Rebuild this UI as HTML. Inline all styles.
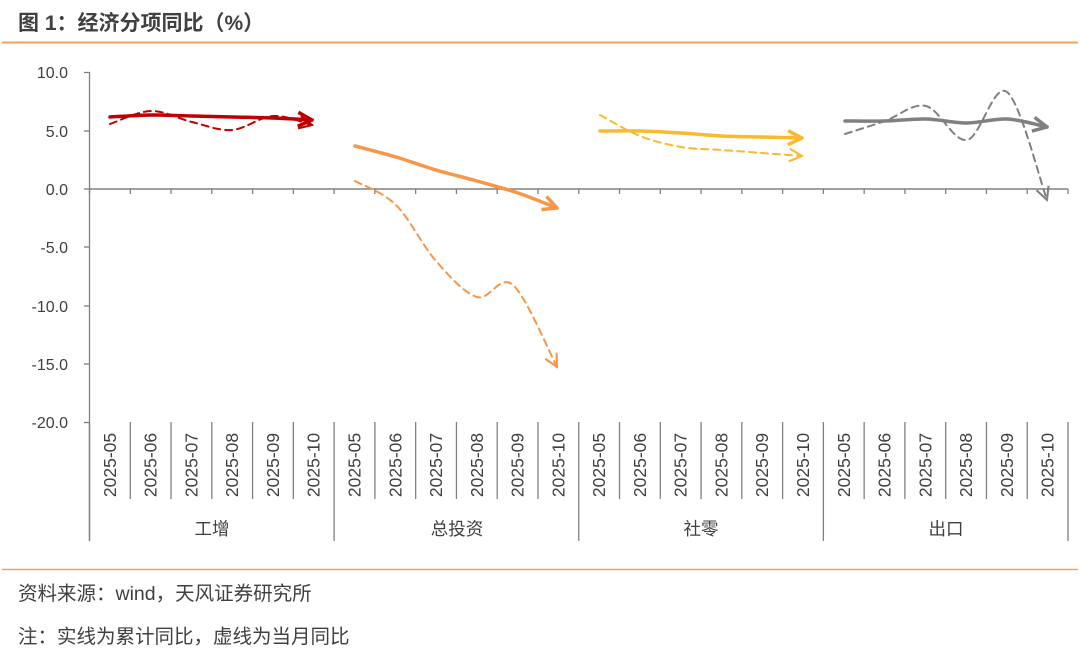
<!DOCTYPE html>
<html><head><meta charset="utf-8"><style>
body{margin:0;background:#fff;width:1080px;height:649px;overflow:hidden;font-family:"Liberation Sans","Noto Sans CJK SC",sans-serif;}
</style></head><body>
<svg width="1080" height="649" xmlns="http://www.w3.org/2000/svg" font-family="Liberation Sans, Noto Sans CJK SC, sans-serif">
<defs>
<marker id="mr" viewBox="0 0 10 10" refX="9" refY="5" markerWidth="5" markerHeight="5" orient="auto" markerUnits="strokeWidth"><path d="M1,1 L9,5 L1,9" fill="none" stroke="#c00000" stroke-width="2"/></marker>
<marker id="mo" viewBox="0 0 10 10" refX="9" refY="5" markerWidth="5" markerHeight="5" orient="auto" markerUnits="strokeWidth"><path d="M1,1 L9,5 L1,9" fill="none" stroke="#f79646" stroke-width="2"/></marker>
<marker id="my" viewBox="0 0 10 10" refX="9" refY="5" markerWidth="5" markerHeight="5" orient="auto" markerUnits="strokeWidth"><path d="M1,1 L9,5 L1,9" fill="none" stroke="#fbb92f" stroke-width="2"/></marker>
<marker id="mg" viewBox="0 0 10 10" refX="9" refY="5" markerWidth="5" markerHeight="5" orient="auto" markerUnits="strokeWidth"><path d="M1,1 L9,5 L1,9" fill="none" stroke="#808080" stroke-width="2"/></marker>
<marker id="dr" viewBox="0 0 10 10" refX="9" refY="5" markerWidth="8" markerHeight="8" orient="auto" markerUnits="strokeWidth"><path d="M1,1 L9,5 L1,9" fill="none" stroke="#c00000" stroke-width="1.3"/></marker>
<marker id="do" viewBox="0 0 10 10" refX="9" refY="5" markerWidth="8" markerHeight="8" orient="auto" markerUnits="strokeWidth"><path d="M1,1 L9,5 L1,9" fill="none" stroke="#f79646" stroke-width="1.3"/></marker>
<marker id="dy" viewBox="0 0 10 10" refX="9" refY="5" markerWidth="8" markerHeight="8" orient="auto" markerUnits="strokeWidth"><path d="M1,1 L9,5 L1,9" fill="none" stroke="#fbb92f" stroke-width="1.3"/></marker>
<marker id="dg" viewBox="0 0 10 10" refX="9" refY="5" markerWidth="8" markerHeight="8" orient="auto" markerUnits="strokeWidth"><path d="M1,1 L9,5 L1,9" fill="none" stroke="#808080" stroke-width="1.3"/></marker>
</defs>
<text x="18" y="30" font-size="21" font-weight="bold" fill="#404040">图 1：经济分项同比（%）</text>
<line x1="2" y1="42.5" x2="1078" y2="42.5" stroke="#f4a060" stroke-width="2"/>
<line x1="2" y1="569.5" x2="1078" y2="569.5" stroke="#f4a060" stroke-width="1.5"/>
<text x="18" y="600" font-size="19.5" fill="#404040">资料来源：wind，天风证券研究所</text>
<text x="18" y="643" font-size="19.5" fill="#404040">注：实线为累计同比，虚线为当月同比</text>
<g font-size="16" fill="#404040" text-anchor="end">
<text x="68" y="78">10.0</text><text x="68" y="137">5.0</text><text x="68" y="195">0.0</text>
<text x="68" y="253">-5.0</text><text x="68" y="312">-10.0</text><text x="68" y="370">-15.0</text><text x="68" y="428">-20.0</text>
</g>
<g stroke="#808080" stroke-width="1.3">
<line x1="89.5" y1="72" x2="89.5" y2="541"/>
<line x1="84" y1="72.5" x2="89.5" y2="72.5"/><line x1="84" y1="131" x2="89.5" y2="131"/><line x1="84" y1="189" x2="89.5" y2="189"/><line x1="84" y1="247" x2="89.5" y2="247"/><line x1="84" y1="306" x2="89.5" y2="306"/><line x1="84" y1="364" x2="89.5" y2="364"/><line x1="84" y1="422.5" x2="89.5" y2="422.5"/>
<line x1="89.5" y1="189" x2="1068" y2="189" stroke-width="1.5"/>
</g>
<g id="ticks" stroke="#808080" stroke-width="1.3"></g>
<g id="labels" font-size="17.5" fill="#404040"></g>
<g font-size="17.5" fill="#404040" text-anchor="middle">
<text x="212" y="535">工增</text><text x="457" y="535">总投资</text><text x="701" y="535">社零</text><text x="946" y="535">出口</text>
</g>
<g fill="none" stroke-linecap="round">
<path id="p1" stroke="#c00000" stroke-width="3.5" marker-end="url(#mr)"/>
<path id="p2" stroke="#c00000" stroke-width="2" stroke-dasharray="7,5" marker-end="url(#dr)"/>
<path id="p3" stroke="#f79646" stroke-width="3.5" marker-end="url(#mo)"/>
<path id="p4" stroke="#f79646" stroke-width="2" stroke-dasharray="7,5" marker-end="url(#do)"/>
<path id="p5" stroke="#fbb92f" stroke-width="3.5" marker-end="url(#my)"/>
<path id="p6" stroke="#fbb92f" stroke-width="2" stroke-dasharray="7,5" marker-end="url(#dy)"/>
<path id="p7" stroke="#808080" stroke-width="3.5" marker-end="url(#mg)"/>
<path id="p8" stroke="#808080" stroke-width="2" stroke-dasharray="7,5" marker-end="url(#dg)"/>
</g>
</svg>
<script>
var ns="http://www.w3.org/2000/svg",w=(1068-89.5)/24;
var tg=document.getElementById("ticks"),lg=document.getElementById("labels");
var ms=["2025-05","2025-06","2025-07","2025-08","2025-09","2025-10"];
for(var i=0;i<=24;i++){var x=89.5+i*w;
 var l=document.createElementNS(ns,"line");l.setAttribute("x1",x);l.setAttribute("x2",x);l.setAttribute("y1",422);l.setAttribute("y2",i%6==0?541:499);tg.appendChild(l);
 var t=document.createElementNS(ns,"line");t.setAttribute("x1",x);t.setAttribute("x2",x);t.setAttribute("y1",189);t.setAttribute("y2",194);tg.appendChild(t);
 if(i<24){var c=x+w/2+6;var tx=document.createElementNS(ns,"text");tx.setAttribute("transform","translate("+c+",465) rotate(-90)");tx.setAttribute("text-anchor","middle");tx.textContent=ms[i%6];lg.appendChild(tx);}}
function cr(p){var d="M"+p[0][0]+","+p[0][1];for(var i=0;i<p.length-1;i++){var p0=p[i-1]||p[i],p1=p[i],p2=p[i+1],p3=p[i+2]||p2;
d+=" C"+(p1[0]+(p2[0]-p0[0])/6)+","+(p1[1]+(p2[1]-p0[1])/6)+" "+(p2[0]-(p3[0]-p1[0])/6)+","+(p2[1]-(p3[1]-p1[1])/6)+" "+p2[0]+","+p2[1];}return d;}
var D={p1:[[110,117],[151,115],[192,116],[232,117],[273,118],[312,120]],
p2:[[110,124],[151,111],[192,122],[232,130],[273,116],[312,125]],
p3:[[355,146],[396,157],[436,170],[477,181],[518,193],[557,208]],
p4:[[355,181],[396,205],[436,261],[477,297],[513,285],[557,367]],
p5:[[600,131],[640,131],[681,133],[722,136],[762,137],[802,138]],
p6:[[600,115],[640,136],[681,147],[722,150],[762,153],[802,156]],
p7:[[845,121],[885,121],[926,119],[967,123],[1007,119],[1047,127]],
p8:[[845,134],[885,121],[926,106],[967,140],[1007,92],[1047,200]]};
for(var k in D)document.getElementById(k).setAttribute("d",cr(D[k]));
</script>
</body></html>
